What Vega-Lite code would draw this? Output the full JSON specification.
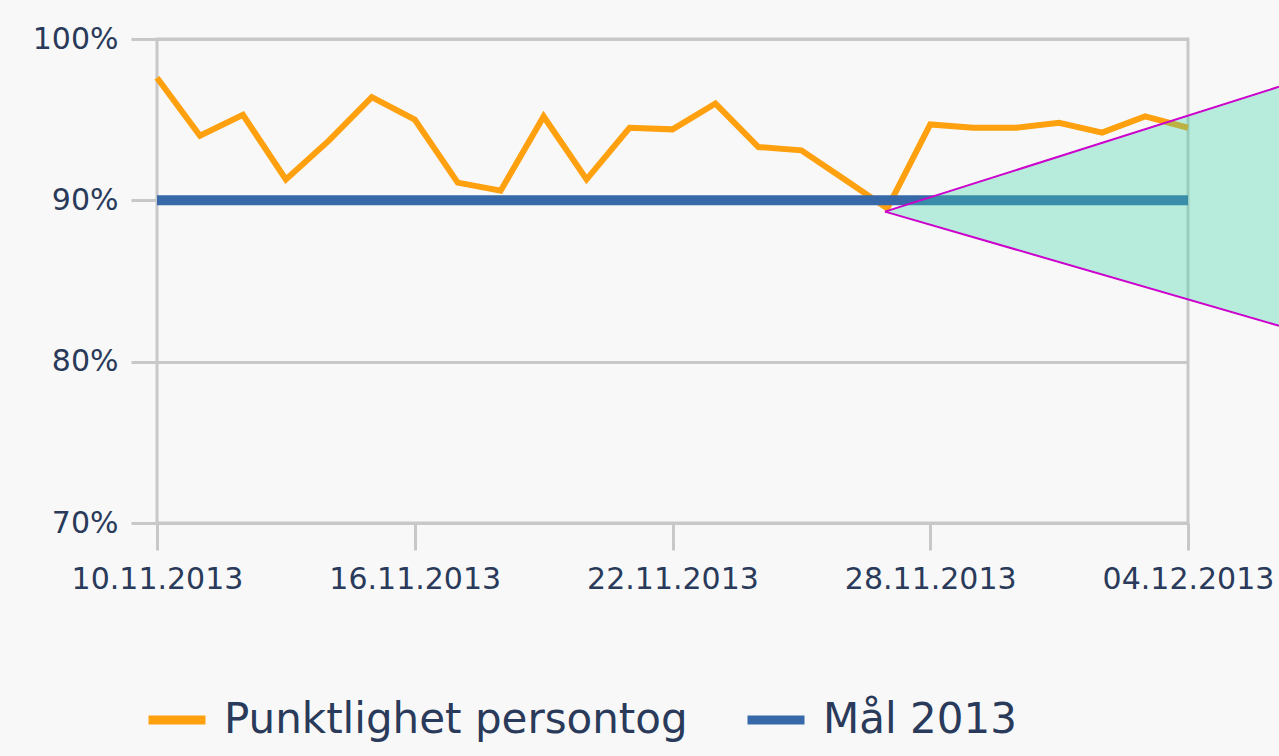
{
  "$schema": "https://vega.github.io/schema/vega-lite/v6.json",
  "autosize": {"type": "none"},
  "padding": {"left": 157, "top": 39, "right": 91, "bottom": 233},
  "width": 1031,
  "height": 484,
  "background": "#f8f8f8",
  "view": {"stroke": "#c8c8c8", "strokeWidth": 3, "fill": "#f8f8f8"},
  "config": {
    "font": "DejaVu Sans",
    "axis": {"labelFont": "DejaVu Sans", "labelColor": "#2a3a5a", "gridColor": "#c8c8c8", "gridWidth": 3, "tickColor": "#c8c8c8", "tickWidth": 3, "title": null}
  },
  "datasets": {
    "punkt": [
      {"dato": "2013-11-10T00:00:00", "serie": "Punktlighet persontog", "verdi": 97.6},
      {"dato": "2013-11-11T00:00:00", "serie": "Punktlighet persontog", "verdi": 94.0},
      {"dato": "2013-11-12T00:00:00", "serie": "Punktlighet persontog", "verdi": 95.3},
      {"dato": "2013-11-13T00:00:00", "serie": "Punktlighet persontog", "verdi": 91.3},
      {"dato": "2013-11-14T00:00:00", "serie": "Punktlighet persontog", "verdi": 93.7},
      {"dato": "2013-11-15T00:00:00", "serie": "Punktlighet persontog", "verdi": 96.4},
      {"dato": "2013-11-16T00:00:00", "serie": "Punktlighet persontog", "verdi": 95.0},
      {"dato": "2013-11-17T00:00:00", "serie": "Punktlighet persontog", "verdi": 91.1},
      {"dato": "2013-11-18T00:00:00", "serie": "Punktlighet persontog", "verdi": 90.6},
      {"dato": "2013-11-19T00:00:00", "serie": "Punktlighet persontog", "verdi": 95.2},
      {"dato": "2013-11-20T00:00:00", "serie": "Punktlighet persontog", "verdi": 91.3},
      {"dato": "2013-11-21T00:00:00", "serie": "Punktlighet persontog", "verdi": 94.5},
      {"dato": "2013-11-22T00:00:00", "serie": "Punktlighet persontog", "verdi": 94.4},
      {"dato": "2013-11-23T00:00:00", "serie": "Punktlighet persontog", "verdi": 96.0},
      {"dato": "2013-11-24T00:00:00", "serie": "Punktlighet persontog", "verdi": 93.3},
      {"dato": "2013-11-25T00:00:00", "serie": "Punktlighet persontog", "verdi": 93.1},
      {"dato": "2013-11-26T00:00:00", "serie": "Punktlighet persontog", "verdi": 91.3},
      {"dato": "2013-11-27T00:00:00", "serie": "Punktlighet persontog", "verdi": 89.5},
      {"dato": "2013-11-28T00:00:00", "serie": "Punktlighet persontog", "verdi": 94.7},
      {"dato": "2013-11-29T00:00:00", "serie": "Punktlighet persontog", "verdi": 94.5},
      {"dato": "2013-11-30T00:00:00", "serie": "Punktlighet persontog", "verdi": 94.5},
      {"dato": "2013-12-01T00:00:00", "serie": "Punktlighet persontog", "verdi": 94.8},
      {"dato": "2013-12-02T00:00:00", "serie": "Punktlighet persontog", "verdi": 94.2},
      {"dato": "2013-12-03T00:00:00", "serie": "Punktlighet persontog", "verdi": 95.2},
      {"dato": "2013-12-04T00:00:00", "serie": "Punktlighet persontog", "verdi": 94.5}
    ],
    "maal": [
      {"dato": "2013-11-10T00:00:00", "serie": "Mål 2013", "verdi": 90},
      {"dato": "2013-12-04T00:00:00", "serie": "Mål 2013", "verdi": 90}
    ],
    "trekant": [
      {"dato": "2013-11-26T22:42:00", "topp": 89.3, "bunn": 89.3},
      {"dato": "2013-12-06T02:49:00", "topp": 97.04, "bunn": 82.23}
    ],
    "kanter": [
      {"dato": "2013-11-26T22:42:00", "verdi": 89.3, "dato2": "2013-12-06T02:49:00", "verdi2": 97.04},
      {"dato": "2013-11-26T22:42:00", "verdi": 89.3, "dato2": "2013-12-06T02:49:00", "verdi2": 82.23}
    ]
  },
  "encoding": {
    "x": {
      "field": "dato", "type": "temporal",
      "scale": {"domain": [{"year": 2013, "month": 11, "date": 10}, {"year": 2013, "month": 12, "date": 4}], "nice": false},
      "axis": {
        "values": [{"year": 2013, "month": 11, "date": 10}, {"year": 2013, "month": 11, "date": 16}, {"year": 2013, "month": 11, "date": 22}, {"year": 2013, "month": 11, "date": 28}, {"year": 2013, "month": 12, "date": 4}],
        "format": "%d.%m.%Y", "grid": false, "domain": false, "ticks": true, "tickSize": 27,
        "labelFontSize": 30, "labelPadding": 14, "labelFlush": false, "labelOverlap": false
      }
    },
    "y": {
      "field": "verdi", "type": "quantitative",
      "scale": {"domain": [70, 100], "nice": false, "zero": false},
      "axis": {
        "values": [70, 80, 90, 100], "labelExpr": "datum.value + '%'", "grid": true, "domain": false,
        "tickSize": 26, "labelFontSize": 30, "labelPadding": 13
      }
    }
  },
  "layer": [
    {
      "data": {"name": "punkt"},
      "mark": {"type": "line", "strokeWidth": 6, "strokeJoin": "miter"},
      "encoding": {
        "color": {
          "field": "serie", "type": "nominal",
          "scale": {"domain": ["Punktlighet persontog", "Mål 2013"], "range": ["#ffa00f", "#3768a8"]},
          "legend": {
            "title": null, "orient": "none", "direction": "horizontal", "legendX": -13, "legendY": 648,
            "symbolType": "stroke", "symbolSize": 3249, "symbolStrokeWidth": 9,
            "labelFontSize": 42, "labelColor": "#2a3a5a", "labelFont": "DejaVu Sans", "labelOffset": 14,
            "columnPadding": 41, "labelLimit": 0
          }
        }
      }
    },
    {
      "data": {"name": "maal"},
      "mark": {"type": "line", "strokeWidth": 10},
      "encoding": {
        "color": {"field": "serie", "type": "nominal"}
      }
    },
    {
      "data": {"name": "trekant"},
      "mark": {"type": "area", "clip": false, "color": "#3fd3a8", "opacity": 0.35},
      "encoding": {
        "y": {"field": "topp", "type": "quantitative"},
        "y2": {"field": "bunn"}
      }
    },
    {
      "data": {"name": "kanter"},
      "mark": {"type": "rule", "clip": false, "color": "#cc00cc", "strokeWidth": 2},
      "encoding": {
        "x2": {"field": "dato2"},
        "y2": {"field": "verdi2"}
      }
    }
  ]
}
